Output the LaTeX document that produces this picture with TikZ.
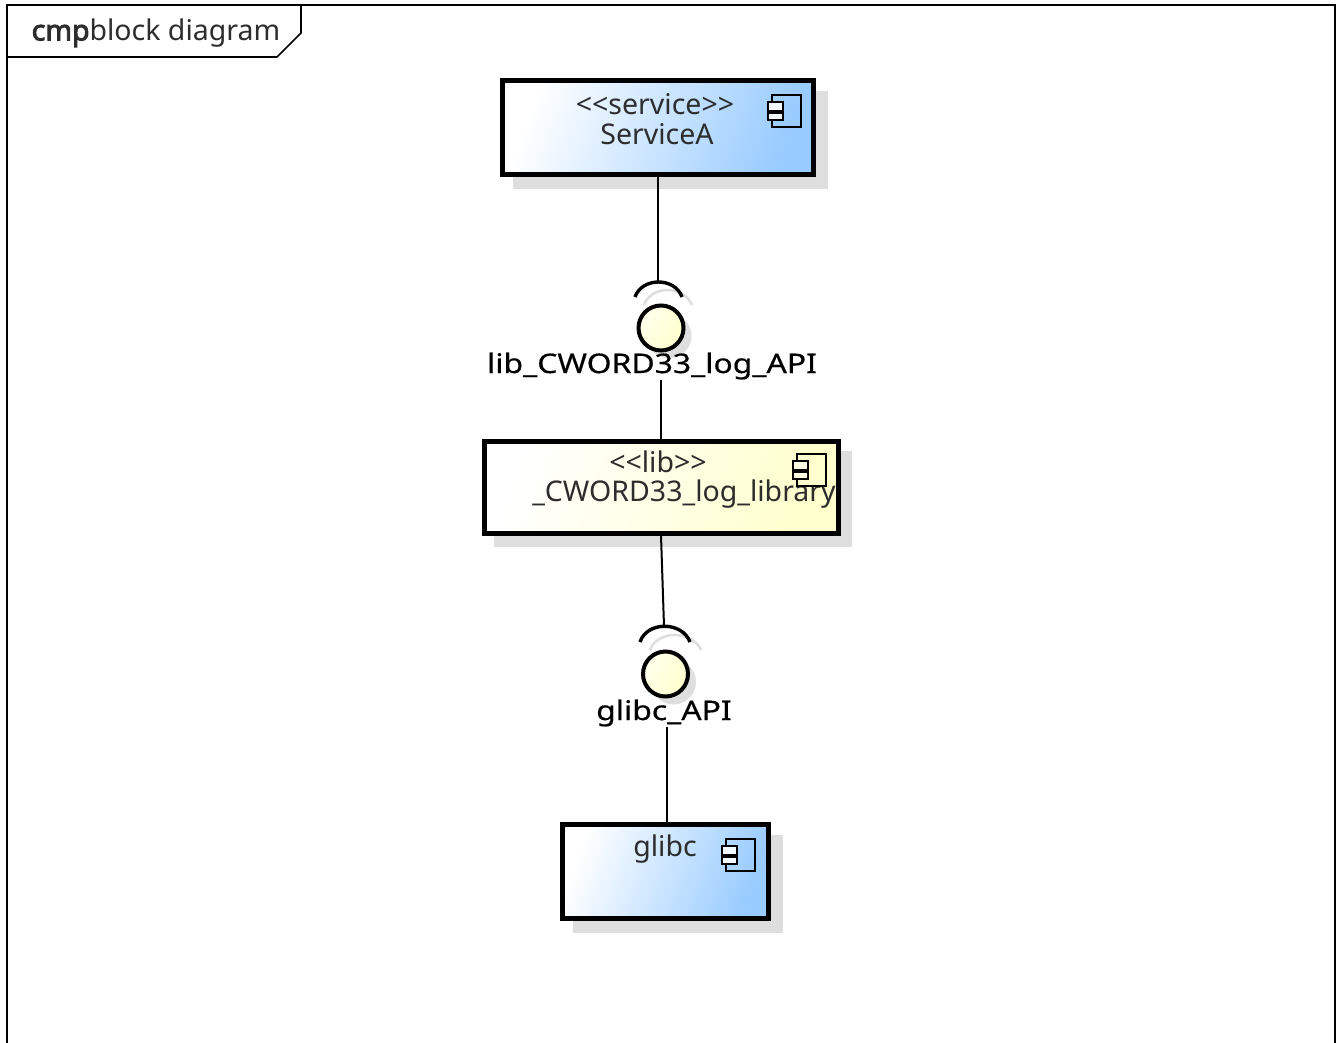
\documentclass[tikz,border=0pt]{standalone}
\usepackage{fontspec}
\setmainfont{Noto Sans}
\newfontfamily\ifacefont[FakeStretch=1.18, FakeBold=0.5]{Noto Sans}
\newfontfamily\titlebold[FakeBold=3]{Noto Sans}
\usetikzlibrary{shadows}
\definecolor{shadowgray}{RGB}{222,222,222}
\definecolor{textgray}{RGB}{45,45,45}
\definecolor{compblue}{RGB}{152,203,255}
\definecolor{compyellow}{RGB}{255,255,205}
\tikzset{
	comp/.style={draw, line width=5pt, inner sep=0pt, left color=white, right color=#1, shading angle=70, general shadow={fill=shadowgray, draw=shadowgray, line width=4pt, shadow xshift=12pt, shadow yshift=-12pt}},
	iface/.style={draw, circle, line width=4pt, inner sep=0pt, minimum size=45pt, left color=compyellow!35, right color=compyellow, shading angle=60, general shadow={fill=shadowgray, shadow xshift=8pt, shadow yshift=-8pt}},
	socket/.style={line width=3.4pt},
	socketshadow/.style={line width=2.6pt, draw=shadowgray},
	link/.style={line width=2pt},
	comptext/.style={inner sep=0pt, text=textgray, font=\fontsize{28.5}{28.5}\selectfont},
	ifacetext/.style={inner sep=0pt, text=black, font=\ifacefont\fontsize{27}{27}\selectfont}
}
% component icon, #1 = position, #2 = fill of the small boxes
\newcommand{\compicon}[2]{
	\draw[line width=1.6pt] ([xshift=4pt, yshift=16pt]#1) rectangle ([xshift=33pt, yshift=-16pt]#1);
	\draw[line width=1.6pt, fill=#2] ([xshift=0pt, yshift=9pt]#1) rectangle ([xshift=15pt, yshift=0pt]#1);
	\draw[line width=1.6pt, fill=#2] ([xshift=0pt, yshift=-2pt]#1) rectangle ([xshift=15pt, yshift=-9pt]#1);
}
\begin{document}
\begin{tikzpicture}[x=1pt, y=-1pt]
				\useasboundingbox (0,0) rectangle (1338,1043);
				% frame
				\draw[line width=1.6pt] (7,1043) -- (7,5) -- (1335,5) -- (1335,1043);
				\draw[line width=1.6pt] (7,57) -- (277,57) -- (301,33) -- (301,5);
				\node[comptext] (Title) at (156,33) {{\titlebold cmp}block diagram};
				% components
				\node[comp=compblue, minimum width=311pt, minimum height=94pt] (ServiceA) at (658,128) {};
				\node[comp=compyellow, minimum width=354pt, minimum height=92pt] (Lib) at (661,487) {};
				\node[comp=compblue, minimum width=206pt, minimum height=94pt] (Glibc) at (665.5,871.5) {};
				\node[comptext] (ServiceAType) at (655,104) {<{}<service>{}>};
				\node[comptext] (ServiceAName) at (657,134) {ServiceA};
				\node[comptext] (LibType) at (658,462) {<{}<lib>{}>};
				\node[comptext] (LibName) at (684,494) {\_CWORD33\_log\_library};
				\node[comptext] (GlibcName) at (665,849) {glibc};
				\compicon{768,111}{white!60!compblue!30}
				\compicon{793,470}{compyellow!50}
				\compicon{722,855}{white!60!compblue!30}
				% provided interfaces
				\coordinate (SocketA) at (658,282);
				\coordinate (SocketB) at (664,626);
				\draw[socketshadow] (644,305) .. controls (651,285) and (684,285) .. (692,305);
				\draw[socketshadow] (650,650) .. controls (657,630) and (692,630) .. (701,650);
				\draw[socket] (635,297) .. controls (642,277) and (675,277) .. (682,297);
				\draw[socket] (640,642) .. controls (647,621) and (682,621) .. (690,642);
				\node[iface] (IfaceA) at (661,328) {};
				\node[iface] (IfaceB) at (665.5,674) {};
				\node[ifacetext] (IfaceAName) at (652,366) {lib\_CWORD33\_log\_API};
				\node[ifacetext] (IfaceBName) at (664,713) {glibc\_API};
				% connectors
				\draw[link] (ServiceA.south -| SocketA) -- (SocketA);
				\draw[link] (IfaceAName.south -| IfaceA) -- (Lib.north -| IfaceA);
				\draw[link] (Lib.south) -- (SocketB);
				\draw[link] ([xshift=3pt]IfaceBName.south) -- ([xshift=1.5pt]Glibc.north);
\end{tikzpicture}
\end{document}
